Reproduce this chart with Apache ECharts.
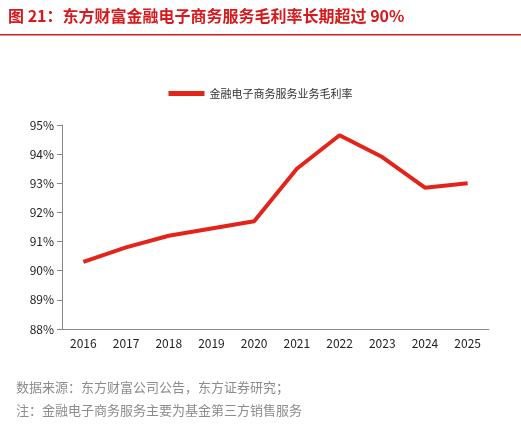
<!DOCTYPE html>
<html><head><meta charset="utf-8">
<script src="https://cdn.jsdelivr.net/npm/echarts@6/dist/echarts.min.js"></script>
<style>body{margin:0;background:#fff}#c{width:521px;height:425px}</style>
</head><body><div id="c"></div>
<script>
const categories=['2016','2017','2018','2019','2020','2021','2022','2023','2024','2025'];
const marginValues=[90.3,90.8,91.2,91.45,91.7,93.5,94.65,93.9,92.85,93.0];
const seriesName='金融电子商务服务业务毛利率';
const chart=echarts.init(document.getElementById('c'));
const F='"Noto Sans CJK SC","Noto Sans",sans-serif';
chart.setOption({
  animation:false,
  graphic:[
    {type:'text',left:8,top:8,style:{text:'图 21：东方财富金融电子商务服务毛利率长期超过 90%',fill:'#d7191c',font:'bold 16px '+F}},
    {type:'rect',shape:{x:0,y:34,width:521,height:1.5},style:{fill:'#d7191c'}},
    {type:'text',left:16,top:381,style:{text:'数据来源：东方财富公司公告，东方证券研究；',fill:'#8c8c8c',font:'13px '+F}},
    {type:'text',left:16,top:404,style:{text:'注：金融电子商务服务主要为基金第三方销售服务',fill:'#8c8c8c',font:'13px '+F}}
  ],
  legend:{top:83,left:'center',itemWidth:36,itemHeight:5,icon:'rect',textStyle:{fontFamily:F,fontSize:11,color:'#333'},data:[seriesName]},
  grid:{left:62,right:32,top:125,bottom:96},
  xAxis:{type:'category',data:categories,boundaryGap:true,
    axisLine:{lineStyle:{color:'#888'}},axisTick:{show:false},
    axisLabel:{color:'#222',fontSize:12,fontFamily:F}},
  yAxis:{type:'value',min:88,max:95,interval:1,
    axisLine:{show:true,lineStyle:{color:'#888'}},axisTick:{show:true,lineStyle:{color:'#888'}},
    splitLine:{show:false},
    axisLabel:{color:'#222',fontSize:12,fontFamily:F,formatter:v=>v+'%'}},
  series:[{name:seriesName,type:'line',data:marginValues,showSymbol:false,
    lineStyle:{color:'#e3241b',width:4},itemStyle:{color:'#e3241b'}}]
});
</script></body></html>
